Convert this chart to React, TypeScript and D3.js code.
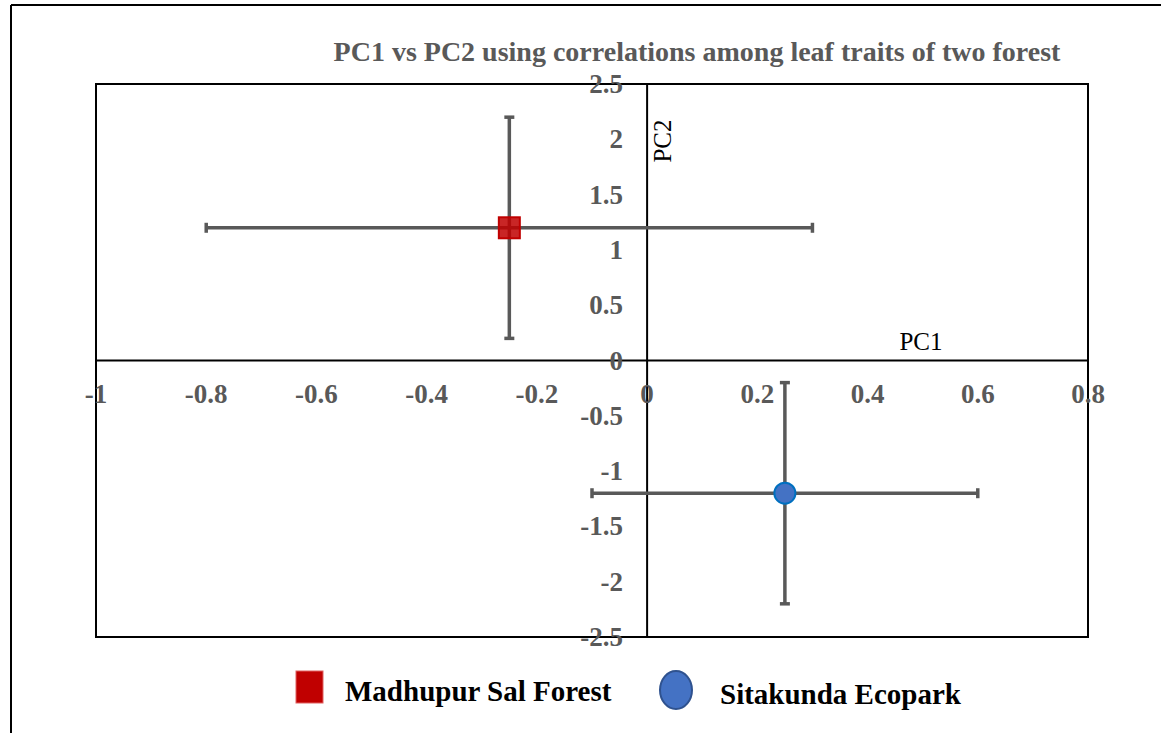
import React from "react";
import * as d3 from "d3";

const seriesNames = ["Madhupur Sal Forest", "Sitakunda Ecopark"];
const pc1Values = [-0.25, 0.25];
const pc2Values = [1.2, -1.2];
const pc1Errors = [0.55, 0.35];
const pc2Errors = [1.0, 1.0];
const xTicks = [-1, -0.8, -0.6, -0.4, -0.2, 0, 0.2, 0.4, 0.6, 0.8];
const yTicks = [-2.5, -2, -1.5, -1, -0.5, 0, 0.5, 1, 1.5, 2, 2.5];
const titleText = "PC1 vs PC2 using correlations among leaf traits of two forest";

const W = 1161;
const H = 733;
const plot = { left: 96, right: 1088, top: 84, bottom: 637 };
const font = "'Liberation Serif', 'Times New Roman', serif";
const gray = "#595959";

export default function App() {
  const x = d3.scaleLinear().domain([-1, 0.8]).range([plot.left, plot.right]);
  const y = d3.scaleLinear().domain([-2.5, 2.5]).range([plot.bottom, plot.top]);
  const fmt = (v: number) => String(Math.round(v * 10) / 10);
  const cap = 5;

  return (
    <svg width={W} height={H} style={{ position: "absolute", left: 0, top: 0 }}>
      <rect width={W} height={H} fill="#fff" />
      <line x1={11} y1={5} x2={W} y2={5} stroke="#000" strokeWidth={2} />
      <line x1={11} y1={5} x2={11} y2={H} stroke="#000" strokeWidth={2} />
      <text x={697} y={61} textAnchor="middle" fontFamily={font} fontWeight="bold" fontSize={28} fill={gray}>
        {titleText}
      </text>
      <rect x={plot.left} y={plot.top} width={plot.right - plot.left} height={plot.bottom - plot.top}
        fill="none" stroke="#000" strokeWidth={2} />
      <line x1={plot.left} x2={plot.right} y1={y(0)} y2={y(0)} stroke="#000" strokeWidth={2} />
      <line x1={x(0)} x2={x(0)} y1={plot.top} y2={plot.bottom} stroke="#000" strokeWidth={2} />
      {xTicks.map((t) => (
        <text key={"x" + t} x={x(t)} y={y(0) + 42} textAnchor="middle" fontFamily={font}
          fontWeight="bold" fontSize={27} fill={gray}>{fmt(t)}</text>
      ))}
      {yTicks.map((t) => (
        <text key={"y" + t} x={x(0) - 24} y={y(t) + 9} textAnchor="end" fontFamily={font}
          fontWeight="bold" fontSize={27} fill={gray}>{fmt(t)}</text>
      ))}
      <text transform={`translate(${x(0) + 24},${141}) rotate(-90)`} textAnchor="middle"
        fontFamily={font} fontSize={25} fill="#000">PC2</text>
      <text x={921} y={350} textAnchor="middle" fontFamily={font} fontSize={25} fill="#000">PC1</text>
      {pc1Values.map((v, i) => {
        const cx = x(v), cy = y(pc2Values[i]);
        const x0 = x(v - pc1Errors[i]), x1 = x(v + pc1Errors[i]);
        const y0 = y(pc2Values[i] + pc2Errors[i]), y1 = y(pc2Values[i] - pc2Errors[i]);
        return (
          <g key={"e" + i} stroke={gray} strokeWidth={3.5}>
            <line x1={x0} x2={x1} y1={cy} y2={cy} />
            <line x1={x0} x2={x0} y1={cy - cap} y2={cy + cap} />
            <line x1={x1} x2={x1} y1={cy - cap} y2={cy + cap} />
            <line x1={cx} x2={cx} y1={y0} y2={y1} />
            <line x1={cx - cap} x2={cx + cap} y1={y0} y2={y0} />
            <line x1={cx - cap} x2={cx + cap} y1={y1} y2={y1} />
          </g>
        );
      })}
      <rect x={x(pc1Values[0]) - 10.5} y={y(pc2Values[0]) - 10.5} width={21} height={21}
        fill="#c00000" fillOpacity={0.85} stroke="#c00000" strokeWidth={2} />
      <circle cx={x(pc1Values[1])} cy={y(pc2Values[1])} r={10.5} fill="#4472c4"
        stroke="#0070c0" strokeWidth={2} />
      <rect x={296} y={671} width={27} height={32} fill="#c00000" stroke="#e06060" strokeWidth={1} />
      <text x={345} y={701} fontFamily={font} fontWeight="bold" fontSize={29} fill="#000">{seriesNames[0]}</text>
      <ellipse cx={676} cy={690} rx={16} ry={19} fill="#4472c4" stroke="#2f528f" strokeWidth={2} />
      <text x={720} y={704} fontFamily={font} fontWeight="bold" fontSize={29} fill="#000">{seriesNames[1]}</text>
    </svg>
  );
}
